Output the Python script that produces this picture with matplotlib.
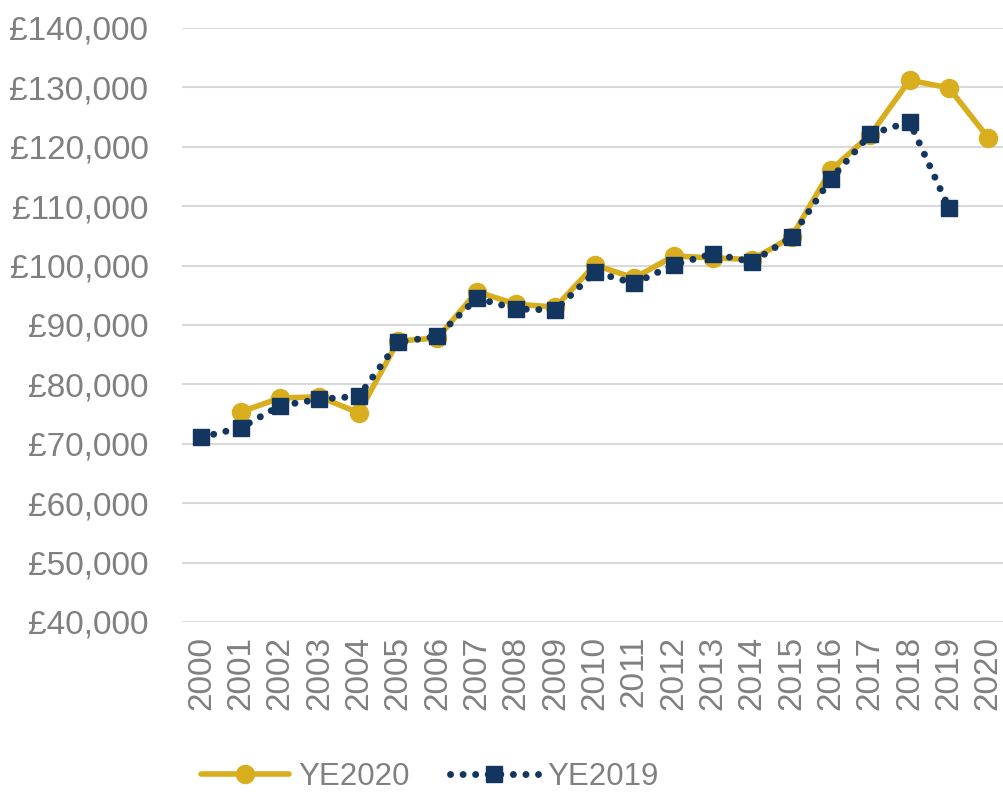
import matplotlib
matplotlib.use("Agg")
import matplotlib.pyplot as plt
from matplotlib.ticker import FuncFormatter

years = [str(y) for y in range(2000, 2021)]
ye2020 = [None, 75350, 77700, 77900, 75200, 87300, 87800, 95600, 93500, 93000,
          100100, 97900, 101600, 101300, 101000, 104800, 116100, 122000, 131200, 129900, 121500]
ye2019 = [71100, 72700, 76400, 77500, 78000, 87100, 88100, 94500, 92700, 92500,
          98900, 97000, 100100, 102000, 100600, 104800, 114600, 122100, 124200, 109700]

gold = "#D9AE1E"
navy = "#133660"
grey = "#808080"

plt.rcParams['font.family'] = ['Liberation Sans', 'DejaVu Sans']

fig = plt.figure(figsize=(10.04, 7.98), dpi=100)
ax = fig.add_axes([0.181, 0.2206, 0.819, 0.7444])

x20 = [i for i, v in enumerate(ye2020) if v is not None]
y20 = [v for v in ye2020 if v is not None]
ax.plot(x20, y20, color=gold, lw=4, marker='o', markersize=13,
        solid_capstyle='round', label='YE2020', zorder=3)
ax.plot(range(len(ye2019)), ye2019, color=navy, lw=5, linestyle=(0, (0.01, 1.8)),
        dash_capstyle='round', marker='s', markersize=12, label='YE2019', zorder=4)

ax.set_ylim(40000, 140000)
ax.set_yticks(range(40000, 140001, 10000))
ax.yaxis.set_major_formatter(FuncFormatter(lambda v, p: "£{:,.0f}".format(v)))
ax.set_xlim(-0.5, 20.4)
ax.set_xticks(range(len(years)))
ax.set_xticklabels(years, rotation=90)
ax.tick_params(axis='both', length=0, labelsize=24, colors=grey, pad=10)
ax.tick_params(axis='y', pad=24)
for s in ax.spines.values():
    s.set_visible(False)
ax.grid(axis='y', color='#D9D9D9', lw=1.5)
ax.set_axisbelow(True)

fig.legend(loc='lower center', bbox_to_anchor=(0.428, -0.028), ncol=2, frameon=False,
           fontsize=22.5, labelcolor=grey, handlelength=2.8, columnspacing=1.3,
           handletextpad=0.3)

fig.savefig("out.png", dpi=100)
